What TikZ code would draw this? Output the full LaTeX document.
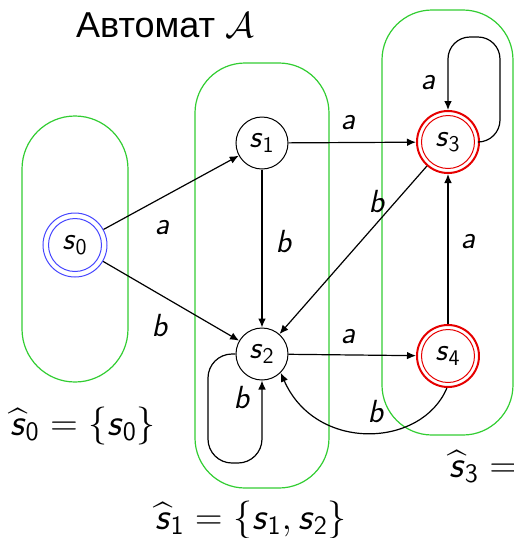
\documentclass[tikz,border=0pt]{standalone}
\usepackage{fix-cm}
\usepackage{amsmath}
\usepackage{fontspec}
\newfontfamily\cyrfont{Liberation Sans}
\usetikzlibrary{arrows.meta}
\definecolor{boxgreen}{RGB}{50,205,50}
\definecolor{accred}{RGB}{230,0,0}
\definecolor{iniblue}{RGB}{70,70,255}
\newcommand\sv{\textsf{\textsl{s}}}
\newcommand\lab[1]{\textsf{\textsl{#1}}}
\begin{document}
\begin{tikzpicture}[x=0.5pt,y=-0.5pt,
  state/.style={circle,draw,line width=0.5pt,minimum size=26pt,inner sep=0pt,font=\fontsize{16}{19}\selectfont},
  inistate/.style={circle,draw=iniblue,line width=0.5pt,minimum size=32pt,inner sep=0pt,font=\fontsize{16}{19}\selectfont},
  accstate/.style={circle,draw=accred,line width=1pt,minimum size=31pt,inner sep=0pt,font=\fontsize{16}{19}\selectfont},
  arr/.style={line width=0.6pt,-{Latex[length=4.5pt,width=3.8pt]}},
  grp/.style={draw=boxgreen,line width=0.6pt},
  elab/.style={inner sep=0pt,font=\fontsize{16}{19}\selectfont},
  setlab/.style={inner sep=0pt,font=\fontsize{19}{23}\selectfont}]
\useasboundingbox (0,0) rectangle (514,538);
% groups
\draw[grp,rounded corners=26.5pt] (22,116) rectangle (128,382);
\draw[grp,rounded corners=25pt] (195,63) rectangle (329,488);
\draw[grp,rounded corners=25pt] (382,10) rectangle (513,435);
% title
\node[inner sep=0pt,anchor=base] (title) at (165,37) {\fontsize{18}{22}\selectfont\cyrfont Автомат $\mathcal{A}$};
% states
\node[inistate] (s0) at (75,245) {$\sv_{\textsf{0}}$};
\draw[iniblue,line width=0.5pt] (s0) circle (13.25pt);
\node[state] (s1) at (262,143) {$\sv_{\textsf{1}}$};
\node[state] (s2) at (262,354) {$\sv_{\textsf{2}}$};
\node[accstate] (s3) at (448,142) {$\sv_{\textsf{3}}$};
\draw[accred,line width=0.5pt] (s3) circle (13.25pt);
\node[accstate] (s4) at (448,356) {$\sv_{\textsf{4}}$};
\draw[accred,line width=0.5pt] (s4) circle (13.25pt);
% loop coordinates
\coordinate (l1) at (208,354);
\coordinate (l2) at (208,463);
\coordinate (l3) at (262,463);
\coordinate (m1) at (500,142);
\coordinate (m2) at (500,37);
\coordinate (m3) at (448,37);
% edges
\draw[arr] (s0) -- (s1);
\draw[arr] (s0) -- (s2);
\draw[arr] (s1) -- (s3);
\draw[arr] (s1) -- (s2);
\draw[arr] (s3) -- (s2);
\draw[arr] (s2) -- (s4);
\draw[arr] (s4) -- (s3);
\draw[arr] (s4.-92) .. controls +(-25,60) and +(35,80) .. (s2.-45);
\draw[arr,rounded corners=12pt] (s2.west) -- (l1) -- (l2) -- (l3) -- (s2.south);
\draw[arr,rounded corners=11pt] (s3.east) -- (m1) -- (m2) -- (m3) -- (s3.north);
% edge labels
\node[elab] (e01) at (162,228) {\lab{a}};
\node[elab] (e02) at (160,326) {\lab{b}};
\node[elab] (e13) at (348,123) {\lab{a}};
\node[elab] (e12) at (284,242) {\lab{b}};
\node[elab] (e32) at (377,202) {\lab{b}};
\node[elab] (e24) at (348,337) {\lab{a}};
\node[elab] (e43) at (468,242) {\lab{a}};
\node[elab] (e42) at (376,412) {\lab{b}};
\node[elab] (e22) at (242,398) {\lab{b}};
\node[elab] (e33) at (428,83) {\lab{a}};
% set labels
\node[setlab,anchor=base] (h0) at (83,435) {$\widehat{\sv}_{\textsf{0}}=\{\sv_{\textsf{0}}\}$};
\node[setlab,anchor=base] (h1) at (251,529) {$\widehat{\sv}_{\textsf{1}}=\{\sv_{\textsf{1}},\sv_{\textsf{2}}\}$};
\node[setlab,anchor=base west] (h3) at (449,477) {$\widehat{\sv}_{\textsf{3}}=$};
\end{tikzpicture}
\end{document}
